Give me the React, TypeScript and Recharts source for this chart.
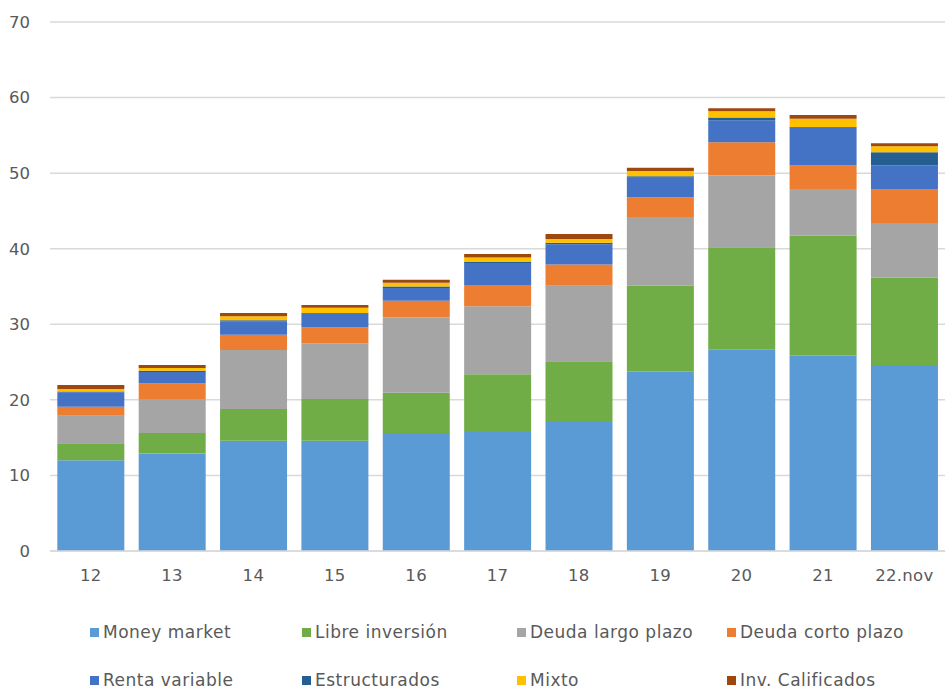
import React from 'react';
import { BarChart, Bar, XAxis, YAxis, CartesianGrid } from 'recharts';

const categories = ['12', '13', '14', '15', '16', '17', '18', '19', '20', '21', '22.nov'];
const moneyMarket = [12.0, 12.9, 14.6, 14.6, 15.6, 15.75, 17.2, 23.8, 26.7, 25.9, 24.6];
const libreInversion = [2.25, 2.7, 4.2, 5.5, 5.35, 7.65, 7.9, 11.3, 13.5, 15.8, 11.6];
const deudaLargo = [3.65, 4.5, 7.8, 7.4, 9.95, 9.0, 10.0, 9.1, 9.5, 6.2, 7.2];
const deudaCorto = [1.2, 2.1, 2.0, 2.1, 2.2, 2.8, 2.8, 2.6, 4.4, 3.1, 4.5];
const rentaVariable = [1.9, 1.5, 1.8, 1.8, 1.7, 2.9, 2.7, 2.6, 2.9, 5.0, 3.1];
const estructurados = [0.1, 0.15, 0.15, 0.1, 0.2, 0.15, 0.2, 0.2, 0.35, 0.1, 1.75];
const mixto = [0.35, 0.35, 0.5, 0.7, 0.5, 0.6, 0.5, 0.7, 0.85, 1.1, 0.8];
const invCalificados = [0.5, 0.4, 0.45, 0.35, 0.4, 0.45, 0.65, 0.4, 0.4, 0.5, 0.4];
const yTicks = [0, 10, 20, 30, 40, 50, 60, 70];

const series = [
  { key: 'mm', name: 'Money market', values: moneyMarket, color: '#5B9BD5' },
  { key: 'li', name: 'Libre inversión', values: libreInversion, color: '#70AD47' },
  { key: 'dlp', name: 'Deuda largo plazo', values: deudaLargo, color: '#A5A5A5' },
  { key: 'dcp', name: 'Deuda corto plazo', values: deudaCorto, color: '#ED7D31' },
  { key: 'rv', name: 'Renta variable', values: rentaVariable, color: '#4472C4' },
  { key: 'es', name: 'Estructurados', values: estructurados, color: '#255E91' },
  { key: 'mx', name: 'Mixto', values: mixto, color: '#FFC000' },
  { key: 'ic', name: 'Inv. Calificados', values: invCalificados, color: '#9E480E' },
];

const data = categories.map((c, i) => {
  const row: Record<string, any> = { cat: c };
  series.forEach((s) => (row[s.key] = s.values[i]));
  return row;
});

const FONT = '"DejaVu Sans", sans-serif';
const legendX = [90, 302, 517, 727];
const legendY = [632, 680];

export default function App() {
  return (
    <div style={{ position: 'absolute', left: 0, top: 0, width: 945, height: 689, background: '#fff', fontFamily: FONT, overflow: 'hidden' }}>
      <BarChart
        width={945}
        height={689}
        data={data}
        margin={{ top: 22, right: 0, bottom: 108, left: 0 }}
        barCategoryGap="9%"
      >
        <CartesianGrid vertical={false} stroke="#D9D9D9" strokeWidth={1.5} />
        <XAxis
          dataKey="cat"
          height={30}
          axisLine={{ stroke: '#D9D9D9', strokeWidth: 1.5 }}
          tickLine={false}
          tick={{ fill: '#595959', fontSize: 16.5, fontFamily: FONT, letterSpacing: 0.3 }}
          tickMargin={12}
        />
        <YAxis
          width={50}
          domain={[0, 70]}
          ticks={yTicks}
          axisLine={false}
          tickLine={false}
          tick={{ fill: '#595959', fontSize: 16.5, fontFamily: FONT }}
          tickMargin={14}
        />
        {series.map((s) => (
          <Bar key={s.key} dataKey={s.key} name={s.name} stackId="a" fill={s.color} isAnimationActive={false} />
        ))}
      </BarChart>
      {series.map((s, i) => (
        <div
          key={s.key}
          style={{
            position: 'absolute',
            left: legendX[i % 4],
            top: legendY[Math.floor(i / 4)] - 9,
            height: 18,
            lineHeight: '18px',
            display: 'flex',
            alignItems: 'center',
            fontSize: 17,
            letterSpacing: 0.5,
            color: '#595959',
            whiteSpace: 'nowrap',
          }}
        >
          <span style={{ display: 'inline-block', width: 9, height: 9, background: s.color, marginRight: 4 }} />
          {s.name}
        </div>
      ))}
    </div>
  );
}
